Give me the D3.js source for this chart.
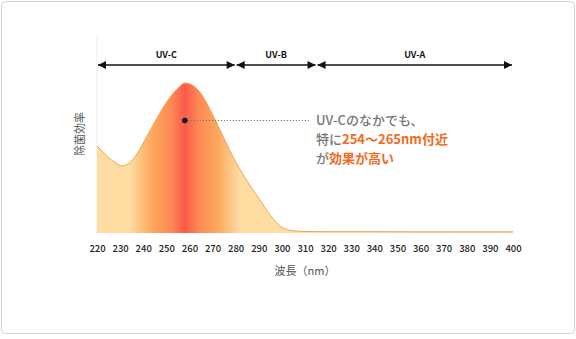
<!DOCTYPE html>
<html><head><meta charset="utf-8">
<script src="https://cdn.jsdelivr.net/npm/d3@7/dist/d3.min.js"></script>
<style>
html,body{margin:0;padding:0;background:#fff;}
svg{display:block;font-family:"Noto Sans CJK JP","Noto Sans",sans-serif;}
</style></head>
<body>
<svg id="chart" width="576" height="339"></svg>
<script>
// Germicidal efficiency by wavelength (relative, peak = 1)
const wavelengths = [220,223,226,228,231,234,237,240,245,250,255,258,260,265,270,275,280,285,290,295,300,305,310,320,340,360,380,400];
const efficiency  = [0.58,0.535,0.49,0.468,0.447,0.468,0.52,0.6,0.74,0.87,0.965,1.0,0.995,0.93,0.79,0.63,0.475,0.345,0.232,0.118,0.038,0.015,0.01,0.009,0.009,0.008,0.008,0.008];
const xTicks = [220,230,240,250,260,270,280,290,300,310,320,330,340,350,360,370,380,390,400];
const bands = [
  {name:"UV-C", from:220, to:280},
  {name:"UV-B", from:280, to:315},
  {name:"UV-A", from:315, to:400}
];
const markerWl = 258, markerVal = 0.75;

const svg = d3.select("#chart");
svg.append("rect").attr("x",1.5).attr("y",1.5).attr("width",573).attr("height",332)
  .attr("rx",4).attr("fill","#fff").attr("stroke","#cfcfcf").attr("stroke-width",1);

const x = d3.scaleLinear().domain([220,400]).range([97,513]);
const y = d3.scaleLinear().domain([0,1]).range([233,83]);

// horizontal gradient: pale edges, red core around the peak
const defs = svg.append("defs");
const grad = defs.append("linearGradient").attr("id","uvGrad")
  .attr("gradientUnits","userSpaceOnUse").attr("x1",x(220)).attr("x2",x(400)).attr("y1",0).attr("y2",0);
const stops = [[220,"#fddda2"],[234,"#fddda2"],[244,"#fca75c"],[252,"#fc8a54"],[258,"#fd5a4b"],[264,"#fc8a54"],[272,"#fca75c"],[282,"#fddda2"],[400,"#fddda2"]];
stops.forEach(([w,c])=>grad.append("stop").attr("offset",(w-220)/180).attr("stop-color",c));

// faint left guide
svg.append("line").attr("x1",x(220)).attr("x2",x(220)).attr("y1",35).attr("y2",233)
  .attr("stroke","#ececec").attr("stroke-width",1);

const pts = wavelengths.map((w,i)=>[w,efficiency[i]]);
const area = d3.area().x(d=>x(d[0])).y0(y(0)).y1(d=>y(d[1])).curve(d3.curveMonotoneX);
const line = d3.line().x(d=>x(d[0])).y(d=>y(d[1])).curve(d3.curveMonotoneX);
svg.append("path").datum(pts).attr("d",area).attr("fill","url(#uvGrad)");
svg.append("path").datum(pts).attr("d",line).attr("fill","none").attr("stroke","#f6a05c").attr("stroke-width",1);

// band arrows
const arrowY = 65;
defs.append("marker").attr("id","ah").attr("viewBox","0 0 10 10").attr("refX",10).attr("refY",5)
  .attr("markerWidth",10).attr("markerHeight",8).attr("markerUnits","userSpaceOnUse").attr("orient","auto-start-reverse")
  .append("path").attr("d","M0,0L10,5L0,10Z").attr("fill","#111");
bands.forEach(b=>{
  svg.append("line").attr("x1",x(b.from)+1).attr("x2",x(b.to)-1).attr("y1",arrowY).attr("y2",arrowY)
    .attr("stroke","#111").attr("stroke-width",1.6)
    .attr("marker-start","url(#ah)").attr("marker-end","url(#ah)");
  svg.append("text").attr("x",x((b.from+b.to)/2)).attr("y",arrowY-7).attr("text-anchor","middle")
    .attr("font-size",9).attr("font-weight",700).attr("fill","#111").text(b.name);
});

// x axis labels
const ax = svg.append("g").attr("transform","translate(0,233)")
  .call(d3.axisBottom(x).tickValues(xTicks).tickSize(0).tickPadding(12).tickFormat(d3.format("d")));
ax.select(".domain").remove();
ax.selectAll("text").attr("font-size",9.5).attr("font-weight",500).attr("fill","#222")
  .attr("font-family","\"Noto Sans CJK JP\",sans-serif");

svg.append("text").attr("x",305).attr("y",275).attr("text-anchor","middle")
  .attr("font-size",11).attr("fill","#555").text("波長（nm）");
svg.append("text").attr("transform","translate(84,134) rotate(-90)").attr("text-anchor","middle")
  .attr("font-size",11).attr("fill","#555").text("除菌効率");

// callout
const mx = x(markerWl), my = y(markerVal);
svg.append("line").attr("x1",mx).attr("x2",310).attr("y1",my).attr("y2",my)
  .attr("stroke","#777").attr("stroke-width",1).attr("stroke-dasharray","1.2,1.8");
svg.append("circle").attr("cx",mx).attr("cy",my).attr("r",2.8).attr("fill","#111");

const t = svg.append("g").attr("font-size",13).attr("font-weight",500);
const l1 = t.append("text").attr("x",316).attr("y",125).attr("fill","#777");
l1.append("tspan").text("UV-Cのなかでも、");
const l2 = t.append("text").attr("x",316).attr("y",144).attr("fill","#777");
l2.append("tspan").text("特に");
l2.append("tspan").attr("fill","#f26a1c").attr("font-weight",700).text("254〜265nm付近");
const l3 = t.append("text").attr("x",316).attr("y",163).attr("fill","#777");
l3.append("tspan").text("が");
l3.append("tspan").attr("fill","#f26a1c").attr("font-weight",700).text("効果が高い");
</script>
</body></html>
